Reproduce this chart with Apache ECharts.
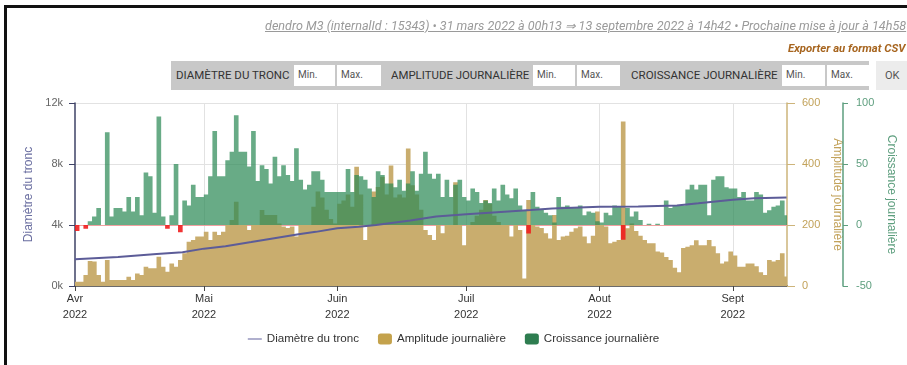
<!DOCTYPE html>
<html><head><meta charset="utf-8">
<script src="https://cdn.jsdelivr.net/npm/echarts/dist/echarts.min.js"></script>
<style>
html,body{margin:0;padding:0;width:907px;height:365px;overflow:hidden;background:#fff;font-family:Roboto,"Liberation Sans",Arial,sans-serif;}
#chart{position:absolute;left:0;top:0;width:907px;height:365px;}
#frame{position:absolute;left:4px;top:5px;width:930px;height:400px;border-left:3px solid #111;border-top:3px solid #111;z-index:5;pointer-events:none}
.fit{position:absolute;white-space:nowrap;transform-origin:0 50%;z-index:6;line-height:14px}
#title{left:265px;top:19px;font-size:12px;font-style:italic;text-decoration:underline;color:#9a9a9a}
#csv{left:788px;top:42px;font-size:11px;font-style:italic;font-weight:bold;color:#a7651f}
#bar{position:absolute;left:171px;top:61px;width:698px;height:29px;background:#c8c8c8;z-index:6}
#ok{position:absolute;left:876px;top:61px;width:40px;height:29px;background:#ececec;z-index:6}
#ok span{position:absolute;left:9px;top:8px;font-size:11px;color:#555}
.lab{font-size:11px;color:#333;top:8px}
.inp{position:absolute;top:4px;height:21px;background:#fff;}
.inp span{position:absolute;left:4px;top:4px;font-size:10px;color:#555}
</style>
</head><body>
<div id="chart"></div>
<div id="frame"></div>
<div id="title" class="fit" data-w="641">dendro M3 (internalId : 15343) • 31 mars 2022 à 00h13 ⇒ 13 septembre 2022 à 14h42 • Prochaine mise à jour à 14h58</div>
<div id="csv" class="fit" data-w="118">Exporter au format CSV</div>
<div id="bar">
  <div class="fit lab" style="left:5px" data-w="114">DIAMÈTRE DU TRONC</div>
  <div class="inp" style="left:123px;width:41px"><span>Min.</span></div>
  <div class="inp" style="left:166px;width:44px"><span>Max.</span></div>
  <div class="fit lab" style="left:220px" data-w="138">AMPLITUDE JOURNALIÈRE</div>
  <div class="inp" style="left:362px;width:42px"><span>Min.</span></div>
  <div class="inp" style="left:406px;width:43px"><span>Max.</span></div>
  <div class="fit lab" style="left:460px" data-w="147">CROISSANCE JOURNALIÈRE</div>
  <div class="inp" style="left:611px;width:43px"><span>Min.</span></div>
  <div class="inp" style="left:656px;width:42px"><span>Max.</span></div>
</div>
<div id="ok"><span>OK</span></div>
<script>
// ---- data (day 0 = 1 avril 2022) ----
const monthStarts = [0, 30, 61, 91, 122, 153];
const monthLabels = ['Avr', 'Mai', 'Juin', 'Juil', 'Aout', 'Sept'];
const yearLabel = '2022';

const amplitude = [
 14,14,36,82,80,36,14,85,20,20, 20,20,30,20,41,36,63,58,58,96,
 63,47,74,63,85,107,145,151,162,162, 178,151,178,167,178,200,216,276,200,200,
 184,200,200,249,233,233,233,205,195,190, 195,162,200,200,200,260,310,290,250,220,
 205,270,280,300,260,391,300,151,200,310, 325,358,300,395,290,300,290,451,330,300,
 250,184,167,151,200,173,200,200,340,200, 134,200,210,230,250,282,270,230,210,200,
 200,162,200,184,25,282,200,195,190,173, 156,233,151,162,165,178,189,195,162,140,
 165,244,200,195,140,145,151,539,189,205, 180,165,151,140,140,113,110,95,85,60,
 45,125,129,134,150,134,134,151,130,107, 74,80,113,100,63,63,74,74,65,45,
 36,85,80,85,107,31
];
const croissance = [
 -5,0,-3,3,7,14,0,76,7,14, 14,11,23,11,23,8,43,40,10,89,
 7,-3,8,50,-6,20,16,33,23,23, 25,40,77,40,40,53,60,90,60,60,
 48,77,36,49,46,34,56,40,49,41, 36,63,37,29,33,44,44,37,27,27,
 27,27,27,46,27,41,40,37,30,23, 44,41,34,34,31,37,28,34,44,28,
 42,60,42,38,42,23,37,23,33,37, 23,20,30,27,18,20,18,30,20,33,
 25,22,30,16,12,-7,27,15,13,10, 8,2,23,15,16,14,14,16,8,11,
 10,3,2,10,8,16,15,-12,14,7, 11,4,0,1,0,1,0,20,14,16,
 16,16,29,33,29,33,33,8,37,40, 40,31,30,30,23,27,20,20,27,25,
 10,12,15,16,20,8
];
const diamDays   = [0, 10, 19, 25, 30, 35, 41, 46, 52, 56, 61, 66, 70, 78, 84, 91, 99, 106, 111, 122, 131, 140, 145, 149, 153, 158, 165.5];
const diamValues = [1750,1900,2100,2220,2450,2600,2880,3120,3400,3550,3780,3880,4000,4300,4550,4700,4850,4980,5080,5200,5210,5280,5420,5540,5660,5750,5810];

// ---- fit header texts ----
document.querySelectorAll('.fit').forEach(el => {
  const w = +el.dataset.w; const cur = el.offsetWidth;
  if (cur > 0) el.style.transform = 'scaleX(' + (w / cur) + ')';
});

const ampData = amplitude.map((v, i) => [i + 0.5, v]);
const croPos = croissance.map((v, i) => [i + 0.5, v >= 0 ? v : 0]);
const croNeg = croissance.map((v, i) => [i + 0.5, v < 0 ? v : 0]);
const diamData = diamDays.map((d, i) => [d, diamValues[i]]);

const chart = echarts.init(document.getElementById('chart'), null, {renderer: 'canvas'});
chart.setOption({
  animation: false,
  textStyle: {fontFamily: '"Liberation Sans", Arial, sans-serif'},
  grid: {left: 75, right: 120, top: 103, bottom: 79},
  legend: {
    top: 328, left: 'center', itemWidth: 14, itemHeight: 11, itemGap: 19,
    textStyle: {fontSize: 11.6, color: '#333'},
    data: [
      {name: 'Diamètre du tronc', icon: 'path://M0,0H18V2H0Z', itemStyle: {color: '#9a9ac0'}},
      {name: 'Amplitude journalière', itemStyle: {color: '#c4a24c', opacity: 1}},
      {name: 'Croissance journalière', itemStyle: {color: '#2e7d50', opacity: 1}}
    ]
  },
  xAxis: {
    type: 'value', min: 0, max: 165.6,
    axisLine: {lineStyle: {color: '#444', width: 1.5}},
    axisTick: {customValues: monthStarts, length: 5, lineStyle: {color: '#444'}},
    axisLabel: {
      customValues: monthStarts,
      formatter: v => monthLabels[monthStarts.indexOf(v)] + '\n' + yearLabel,
      color: '#333', fontSize: 11, lineHeight: 16, margin: 5
    },
    splitLine: {show: false}
  },
  yAxis: [
    {
      type: 'value', position: 'left', min: 0, max: 12000, interval: 4000,
      axisLine: {show: true, lineStyle: {color: '#3e4266', width: 1.5}},
      axisTick: {show: true, length: 6, lineStyle: {color: '#3e4266'}},
      axisLabel: {formatter: v => (v / 1000) + 'k', color: '#666', fontSize: 11, margin: 12},
      splitLine: {lineStyle: {color: '#e2e2e2'}},
      name: 'Diamètre du tronc', nameLocation: 'middle', nameGap: 36,
      nameTextStyle: {color: '#6a6ea0', fontSize: 12}
    },
    {
      type: 'value', position: 'right', min: 0, max: 600, interval: 200,
      axisLine: {show: true, lineStyle: {color: '#cdb47a', width: 1.5}},
      axisTick: {show: true, length: 8, lineStyle: {color: '#cdb47a'}},
      axisLabel: {color: '#c2a25a', fontSize: 11, margin: 15},
      splitLine: {show: false},
      name: 'Amplitude journalière', nameLocation: 'middle', nameGap: 44, nameRotate: -90,
      nameTextStyle: {color: '#c2a25a', fontSize: 12}
    },
    {
      type: 'value', position: 'right', offset: 56, min: -50, max: 100, interval: 50,
      axisLine: {show: true, lineStyle: {color: '#5d9e7e', width: 1.5}},
      axisTick: {show: true, length: 5, lineStyle: {color: '#5d9e7e'}},
      axisLabel: {color: '#5d9e7e', fontSize: 11, margin: 13},
      splitLine: {show: false},
      name: 'Croissance journalière', nameLocation: 'middle', nameGap: 40, nameRotate: -90,
      nameTextStyle: {color: '#5d9e7e', fontSize: 12}
    }
  ],
  series: [
    {
      type: 'bar', name: 'Amplitude journalière', yAxisIndex: 1, data: ampData,
      large: true, largeThreshold: 50,
      barCategoryGap: '-8%', barGap: '-100%', z: 2,
      itemStyle: {color: '#c9ad6e'},
      markLine: {
        silent: true, symbol: 'none', z: 1, label: {show: false},
        lineStyle: {color: '#e2e2e2', type: 'solid', width: 1},
        data: monthStarts.slice(1).map(d => ({xAxis: d}))
      }
    },
    {
      type: 'bar', name: 'Croissance journalière', yAxisIndex: 2, data: croPos,
      large: true, largeThreshold: 50,
      barCategoryGap: '-8%', barGap: '-100%', z: 3,
      itemStyle: {color: 'rgba(46,139,87,0.72)'},
      markLine: {
        silent: true, symbol: 'none', z: 1, label: {show: false},
        lineStyle: {color: '#f2a0a0', type: 'solid', width: 1},
        data: [{yAxis: 0}]
      }
    },
    {
      type: 'bar', name: 'Croissance négative', yAxisIndex: 2, data: croNeg,
      large: true, largeThreshold: 50,
      barCategoryGap: '-8%', barGap: '-100%', z: 3,
      itemStyle: {color: 'rgba(240,30,30,0.9)'}
    },
    {
      type: 'line', name: 'Diamètre du tronc', yAxisIndex: 0, data: diamData,
      symbol: 'none', z: 5,
      lineStyle: {color: '#5c5c98', width: 2}, itemStyle: {color: '#5c5c98'}
    }
  ]
});
</script>
</body></html>
